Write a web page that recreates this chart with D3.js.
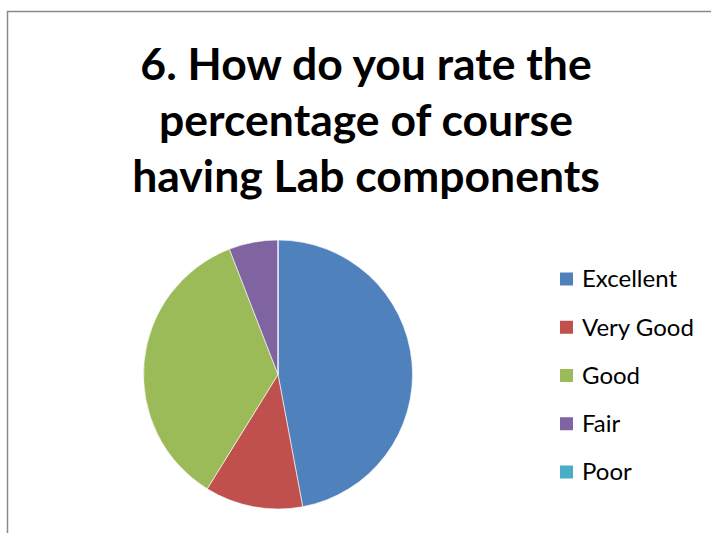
<!DOCTYPE html>
<html><head><meta charset="utf-8">
<script src="https://cdn.jsdelivr.net/npm/d3@7"></script>
<style>body{margin:0;background:#fff}svg{display:block}</style>
</head><body>
<svg id="c" width="711" height="533"></svg>
<script>
const categories = ["Excellent", "Very Good", "Good", "Fair", "Poor"];
const values = [8, 2, 6, 1, 0];
const colors = ["#4F81BD", "#C0504D", "#9BBB59", "#8064A2", "#4BACC6"];
const titleLines = ["6. How do you rate the", "percentage of course", "having Lab components"];

const svg = d3.select("#c");
svg.append("rect").attr("x", 7.5).attr("y", 11.5).attr("width", 720).attr("height", 540)
  .attr("fill", "#fff").attr("stroke", "#8a8a8a").attr("stroke-width", 1.5);

const title = svg.append("g");
titleLines.forEach((t, i) => {
  title.append("text").attr("x", 366).attr("y", 80 + i * 56)
    .attr("text-anchor", "middle").attr("font-family", "Lato, 'Open Sans', sans-serif")
    .attr("font-weight", "bold").attr("font-size", 44.5).attr("fill", "#000").text(t);
});

const data = categories.map((c, i) => ({ cat: c, value: values[i], color: colors[i] }));
const pie = d3.pie().sort(null).value(d => d.value);
const arc = d3.arc().innerRadius(0).outerRadius(134.5);
const g = svg.append("g").attr("transform", "translate(278,374.5)");
g.selectAll("path").data(pie(data)).join("path")
  .attr("d", arc).attr("fill", d => d.data.color)
  .attr("stroke", "#fff").attr("stroke-width", 0.6);

const y = d3.scalePoint().domain(categories).range([279, 472]);
const leg = svg.append("g");
const items = leg.selectAll("g").data(data).join("g")
  .attr("transform", d => `translate(560,${y(d.cat)})`);
items.append("rect").attr("x", 0).attr("y", -6.5).attr("width", 13).attr("height", 13)
  .attr("fill", d => d.color);
items.append("text").attr("x", 22).attr("y", 0).attr("dy", "0.35em")
  .attr("font-family", "Lato, 'Open Sans', sans-serif").attr("font-size", 24)
  .attr("fill", "#000").text(d => d.cat);
</script>
</body></html>
